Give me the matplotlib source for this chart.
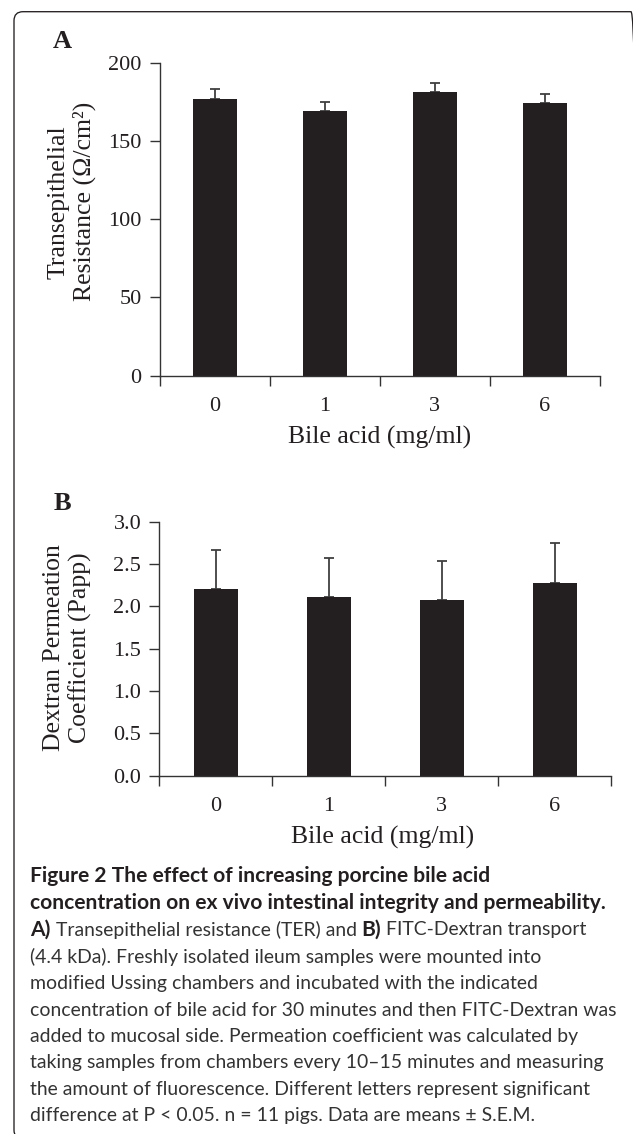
import numpy as np
import matplotlib
matplotlib.use("Agg")
import matplotlib.pyplot as plt
from matplotlib import font_manager
from matplotlib.patches import FancyBboxPatch
from matplotlib.transforms import IdentityTransform

# data
doses = ["0", "1", "3", "6"]
ter_mean = [177, 169, 181, 174]
ter_sem = [6, 6, 6, 6]
papp_mean = [2.20, 2.11, 2.07, 2.28]
papp_sem = [0.47, 0.465, 0.47, 0.47]

W, H = 633, 1134
serif = "Liberation Serif"
names = {f.name for f in font_manager.fontManager.ttflist}
cap_font = "Liberation Sans Narrow" if "Liberation Sans Narrow" in names else "Lato"
dark = "#231f20"

fig = plt.figure(figsize=(W / 100, H / 100), dpi=100)


def px_axes(left, top, right, bottom):
    return fig.add_axes([left / W, 1 - bottom / H, (right - left) / W, (bottom - top) / H])


def draw_panel(ax, means, sems, ylim, yticks, fmt, bw):
    x = np.arange(len(doses))
    ax.bar(x, means, width=bw, color=dark, edgecolor="none", zorder=2)
    ax.errorbar(x, means, yerr=[np.zeros(len(sems)), sems], fmt="none",
                ecolor="#404040", elinewidth=1.3, capsize=3.3, capthick=1.3, zorder=1)
    ax.set_xlim(-0.5, len(doses) - 0.5)
    ax.set_ylim(*ylim)
    ax.set_yticks(yticks)
    ax.set_yticklabels([fmt.format(v) for v in yticks], fontfamily=serif, fontsize=16)
    ax.set_xticks(x)
    ax.set_xticklabels(doses, fontfamily=serif, fontsize=16)
    ax.set_xticks(np.arange(-0.5, len(doses)), minor=True)
    ax.tick_params(axis="x", which="major", length=0, pad=15)
    ax.tick_params(axis="x", which="minor", length=7, width=1, color="#333333", direction="out")
    ax.tick_params(axis="y", length=7, width=1, color="#333333", pad=6, direction="out")
    for s in ["top", "right"]:
        ax.spines[s].set_visible(False)
    for s in ["left", "bottom"]:
        ax.spines[s].set_color("#333333")
        ax.spines[s].set_linewidth(1.0)
    ax.tick_params(which="both", labelcolor=dark)
    ax.set_facecolor("none")


axA = px_axes(159.5, 62.7, 599.7, 375.7)
draw_panel(axA, ter_mean, ter_sem, (0, 200), [0, 50, 100, 150, 200], "{:.0f}", 0.4)
axB = px_axes(159.3, 521.7, 611, 775.7)
draw_panel(axB, papp_mean, papp_sem, (0, 3.0), [0, 0.5, 1.0, 1.5, 2.0, 2.5, 3.0], "{:.1f}", 0.39)


def ftext(x, y, s, **kw):
    return fig.text(x / W, 1 - y / H, s, **kw)


ftext(62.5, 42, "A", fontfamily=serif, fontweight="bold", fontsize=19, ha="center", va="center", color=dark)
ftext(62.5, 503, "B", fontfamily=serif, fontweight="bold", fontsize=19, ha="center", va="center", color=dark)
ftext(71.6, 201.7, "Transepithelial\nResistance (Ω/cm²)", fontfamily=serif, fontsize=18.5,
      rotation=90, ha="center", va="center", multialignment="center", color=dark, linespacing=1.2)
ftext(67.6, 647.5, "Dextran Permeation\nCoefficient (Papp)", fontfamily=serif, fontsize=18.5,
      rotation=90, ha="center", va="center", multialignment="center", color=dark, linespacing=1.2)
ftext(379.6, 437, "Bile acid (mg/ml)", fontfamily=serif, fontsize=18.5, ha="center", va="center", color=dark)
ftext(383, 837, "Bile acid (mg/ml)", fontfamily=serif, fontsize=18.5, ha="center", va="center", color=dark)

# caption
renderer = fig.canvas.get_renderer()


def fit_size(s, target, weight):
    t = fig.text(0, 0, s, fontfamily=cap_font, fontsize=10, fontweight=weight)
    w = t.get_window_extent(renderer).width
    t.remove()
    return 10 * target / w


reg_size = fit_size("concentration of bile acid for 30 minutes and then FITC-Dextran was", 587, "normal")
bold_size = fit_size("concentration on ex vivo intestinal integrity and permeability.", 575, "bold")

cap_lines = [
    [("Figure 2 The effect of increasing porcine bile acid", "bold")],
    [("concentration on ex vivo intestinal integrity and permeability.", "bold")],
    [("A)", "bold"), (" Transepithelial resistance (TER) and ", "normal"), ("B)", "bold"),
     (" FITC-Dextran transport", "normal")],
    [("(4.4 kDa). Freshly isolated ileum samples were mounted into", "normal")],
    [("modified Ussing chambers and incubated with the indicated", "normal")],
    [("concentration of bile acid for 30 minutes and then FITC-Dextran was", "normal")],
    [("added to mucosal side. Permeation coefficient was calculated by", "normal")],
    [("taking samples from chambers every 10\u201315 minutes and measuring", "normal")],
    [("the amount of fluorescence. Different letters represent significant", "normal")],
    [("difference at P < 0.05. n = 11 pigs. Data are means \u00b1 S.E.M.", "normal")],
]
cap_y = [876, 903, 930, 956.7, 983, 1010, 1036.7, 1062.7, 1089, 1116]

for parts, yy in zip(cap_lines, cap_y):
    xx = 30.3
    for s, wt in parts:
        size = bold_size if wt == "bold" else reg_size
        col = dark if wt == "bold" else "#333333"
        t = ftext(xx, yy, s, fontfamily=cap_font, fontsize=size, fontweight=wt,
                  ha="left", va="center", color=col)
        xx += t.get_window_extent(renderer).width

# rounded frame, cut at the right and bottom edges
frame = FancyBboxPatch((14, -5), 626, H - 11.7 + 5, boxstyle="round,pad=0,rounding_size=9",
                       facecolor="none", edgecolor=dark, linewidth=0.95, transform=IdentityTransform())
fig.add_artist(frame)

fig.savefig("out.png", dpi=100)
